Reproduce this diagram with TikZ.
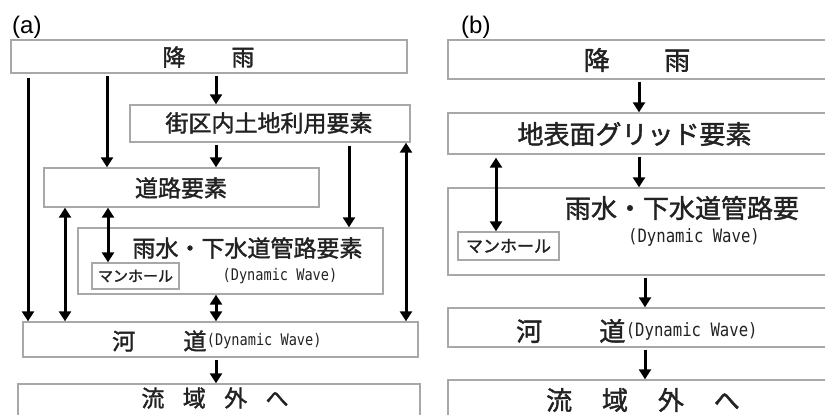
\documentclass[tikz,border=0pt]{standalone}
\usepackage{fontspec}
\setmainfont{Liberation Sans}
\newfontfamily\jp{Noto Sans CJK JP}[FakeBold=1.6]
\newfontfamily\dwfont{DejaVu Sans Mono}[FakeStretch=0.85]
\usetikzlibrary{arrows.meta}
\definecolor{boxgray}{HTML}{A8A8A8}
\definecolor{txt}{HTML}{222222}
\begin{document}
\begin{tikzpicture}[x=1pt,y=-1pt,
  box/.style={draw=boxgray, line width=1.4pt, inner sep=0pt},
  ja/.style={text=txt, inner sep=0pt, font=\jp\fontsize{23}{23}\selectfont},
  jb/.style={text=txt, inner sep=0pt, font=\jp\fontsize{26}{26}\selectfont},
  dwa/.style={text=txt, inner sep=0pt, font=\dwfont\fontsize{16}{16}\selectfont},
  dwb/.style={text=txt, inner sep=0pt, font=\dwfont\fontsize{18.4}{18.4}\selectfont},
  panel/.style={inner sep=0pt, font=\fontsize{24}{24}\selectfont, anchor=base west},
  arr/.style={line width=3pt, shorten <=2pt, -{Triangle[length=10pt,width=12pt]}},
  darr/.style={line width=3pt, {Triangle[length=10pt,width=12pt]}-{Triangle[length=10pt,width=12pt]}}]
\useasboundingbox (0,0) rectangle (825,415);

% ---------- panel labels ----------
\node[panel] (la) at (12,33) {(a)};
\node[panel] (lb) at (461,33) {(b)};

% ---------- (a) boxes ----------
\node[box, minimum width=396pt, minimum height=33pt] (rainA) at (209,56.5) {};
\node[box, minimum width=280pt, minimum height=37pt] (landA) at (270,123.5) {};
\node[box, minimum width=275pt, minimum height=39pt] (roadA) at (181.5,187.5) {};
\node[box, minimum width=305pt, minimum height=66pt] (sewerA) at (230.5,261) {};
\node[box, minimum width=87pt, minimum height=26pt] (mhA) at (135.5,276) {};
\node[box, minimum width=395pt, minimum height=35pt] (riverA) at (220.5,339.5) {};
\node[box, minimum width=402pt, minimum height=50pt] (outA) at (219,409) {};

% ---------- (a) texts ----------
\node[ja] (tRainA) at (208.5,57) {降\hspace{2em}雨};
\node[ja] (tLandA) at (269,123) {街区内土地利用要素};
\node[ja] (tRoadA) at (181,188) {道路要素};
\node[ja] (tSewerA) at (247.5,248) {雨水・下水道管路要素};
\node[dwa] (tDwA1) at (280,276) {(Dynamic Wave)};
\node[text=txt, inner sep=0pt, font=\jp\fontsize{15}{15}\selectfont] (tMhA) at (mhA.center) {マンホール};
\node[ja, anchor=west] (tRiverA) at (112,341) {河\hspace{2.1em}道};
\node[dwa, anchor=west] (tDwA2) at (tRiverA.east) {(Dynamic Wave)};
\node[ja] (tOutA) at (215,398) {流\hspace{0.8em}域\hspace{0.8em}外\hspace{0.8em}へ};

% ---------- (a) arrows ----------
\coordinate (xa1) at (28,0);
\coordinate (xa2) at (107,0);
\coordinate (xa3) at (216,0);
\coordinate (xa4) at (349,0);
\coordinate (xa5) at (406,0);
\coordinate (xa6) at (65,0);
\coordinate (xa7) at (108,0);
\draw[arr, shorten <=4pt] (rainA.south -| xa1) -- (riverA.north -| xa1);
\draw[arr] (rainA.south -| xa2) -- (roadA.north -| xa2);
\draw[arr] (rainA.south -| xa3) -- (landA.north -| xa3);
\draw[arr] (landA.south -| xa3) -- (roadA.north -| xa3);
\draw[arr, shorten <=3pt] (landA.south -| xa4) -- (sewerA.north -| xa4);
\draw[darr] (landA.south -| xa5) -- (riverA.north -| xa5);
\draw[darr] (roadA.south -| xa6) -- (riverA.north -| xa6);
\draw[darr] (roadA.south -| xa7) -- (mhA.north -| xa7);
\draw[darr] (sewerA.south -| xa3) -- (riverA.north -| xa3);
\draw[arr] (riverA.south -| xa3) -- (outA.north -| xa3);

% ---------- (b) boxes ----------
\node[box, minimum width=382pt, minimum height=39pt] (rainB) at (639,59.5) {};
\node[box, minimum width=382pt, minimum height=41pt] (gridB) at (639,133.5) {};
\node[box, minimum width=382pt, minimum height=87pt] (sewerB) at (639,231.5) {};
\node[box, minimum width=101pt, minimum height=28pt] (mhB) at (508.5,246) {};
\node[box, minimum width=382pt, minimum height=39pt] (riverB) at (639,327.5) {};
\node[box, minimum width=382pt, minimum height=50pt] (outB) at (639,405) {};

% ---------- (b) texts ----------
\node[jb] (tRainB) at (637,60) {降\hspace{2.1em}雨};
\node[jb] (tGridB) at (634.5,134) {地表面グリッド要素};
\node[jb] (tSewerB) at (682,208) {雨水・下水道管路要};
\node[dwb] (tDwB1) at (694,237) {(Dynamic Wave)};
\node[text=txt, inner sep=0pt, font=\jp\fontsize{17}{17}\selectfont] (tMhB) at (mhB.center) {マンホール};
\node[jb, anchor=west] (tRiverB) at (516,331) {河\hspace{2.2em}道};
\node[dwb, anchor=west] (tDwB2) at (tRiverB.east) {(Dynamic Wave)};
\node[jb] (tOutB) at (643,400) {流\hspace{1.15em}域\hspace{1.15em}外\hspace{1.15em}へ};

% ---------- (b) arrows ----------
\coordinate (xb1) at (639,0);
\coordinate (xb2) at (645,0);
\coordinate (xb3) at (496,0);
\draw[arr] (rainB.south -| xb1) -- (gridB.north -| xb1);
\draw[arr] (gridB.south -| xb1) -- (sewerB.north -| xb1);
\draw[arr] (sewerB.south -| xb2) -- (riverB.north -| xb2);
\draw[arr] (riverB.south -| xb2) -- (outB.north -| xb2);
\draw[darr, shorten <=3pt] (gridB.south -| xb3) -- (mhB.north -| xb3);
\end{tikzpicture}
\end{document}
